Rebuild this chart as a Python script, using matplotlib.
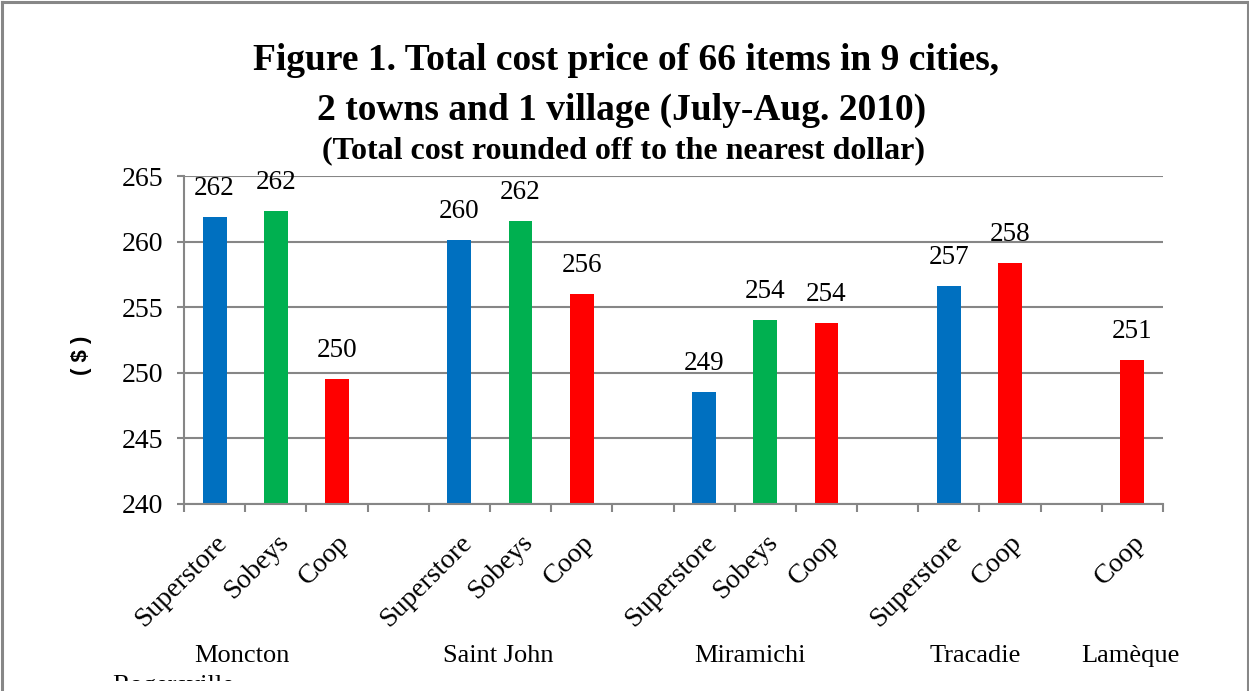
import numpy as np
import matplotlib.pyplot as plt
from matplotlib.lines import Line2D
from matplotlib.patches import Rectangle

# categories along the x axis (blank slots separate the towns)
categories = ['Superstore', 'Sobeys', 'Coop', '',
              'Superstore', 'Sobeys', 'Coop', '',
              'Superstore', 'Sobeys', 'Coop', '',
              'Superstore', 'Coop', '',
              'Coop']
# total cost ($), None for the blank slots
totals = [261.9, 262.3, 249.5, None,
          260.1, 261.6, 256.0, None,
          248.5, 254.0, 253.8, None,
          256.6, 258.4, None,
          251.0]
# rounded labels shown above the bars
rounded = [262, 262, 250, None,
           260, 262, 256, None,
           249, 254, 254, None,
           257, 258, None,
           251]
cities = ['Rogersville', 'Moncton', 'Saint John', 'Miramichi', 'Tracadie', 'Lamèque']
city_x = [-0.68, 0.45, 4.63, 8.75, 12.43, 14.96]

store_colors = {'Superstore': '#0070C0', 'Sobeys': '#00B050', 'Coop': '#FF0000'}

plt.rcParams['font.family'] = ['Liberation Serif', 'DejaVu Serif']

fig = plt.figure(figsize=(12.49, 6.91), dpi=100)
ax = fig.add_axes([184 / 1249, 1 - 503.7 / 691, 979 / 1249, 327.7 / 691])

x = np.arange(len(categories))
for i in range(len(categories)):
    if totals[i] is None:
        continue
    ax.bar(x[i], totals[i] - 240, bottom=240, width=0.39,
           color=store_colors[categories[i]], zorder=2)
    ax.annotate(str(rounded[i]), (x[i], totals[i]), xytext=(0, 22),
                textcoords='offset pixels', ha='center', va='baseline',
                fontsize=19.5)

grey = '#868686'
ax.set_xlim(-0.5, len(categories) - 0.5)
ax.set_ylim(240, 265)
ax.set_yticks(np.arange(240, 266, 5))
ax.yaxis.grid(True, color=grey, linewidth=1.5)
ax.set_axisbelow(True)
for s in ['top', 'right']:
    ax.spines[s].set_visible(False)
for s in ['left', 'bottom']:
    ax.spines[s].set_color(grey)
    ax.spines[s].set_linewidth(1.5)

ax.tick_params(axis='y', length=5, width=1.5, color=grey, pad=10, labelsize=20)
ax.set_xticks(x)
ax.set_xticklabels(categories, rotation=45, ha='right', rotation_mode='anchor',
                   fontsize=20)
ax.tick_params(axis='x', which='major', length=0, pad=19)
ax.set_xticks(np.arange(-0.5, len(categories)), minor=True)
ax.tick_params(axis='x', which='minor', length=6, width=1.5, color=grey)

ax.set_ylabel('( $ )', fontsize=16, fontweight='bold', family='Liberation Sans')
ax.yaxis.set_label_coords((92 - 184) / 979, (503.7 - 355) / 327.7)

# town names under the store labels
trans = ax.get_xaxis_transform()
for name, cx in zip(cities, city_x):
    yy = (503.7 - 662) / 327.7 if name != 'Rogersville' else (503.7 - 692) / 327.7
    ax.text(cx, yy, name, transform=trans, ha='center', va='baseline',
            fontsize=19, clip_on=False)

# title
fig.text(626 / 1249, 1 - 70 / 691, 'Figure 1. Total cost price of 66 items in 9 cities,',
         ha='center', va='baseline', fontsize=27, fontweight='bold')
fig.text(622 / 1249, 1 - 120 / 691, '2 towns and 1 village (July-Aug. 2010)',
         ha='center', va='baseline', fontsize=27, fontweight='bold')
fig.text(624 / 1249, 1 - 158 / 691, '(Total cost rounded off to the nearest dollar)',
         ha='center', va='baseline', fontsize=23, fontweight='bold')

# white strip hiding the lower part of the cut-off label, then the frame
fig.add_artist(Rectangle((0, 0), 1, 10.5 / 691, transform=fig.transFigure,
                         facecolor='white', edgecolor='none', zorder=10))
frame = dict(color='#878787', linewidth=2.2, transform=fig.transFigure, zorder=11)
fig.add_artist(Line2D([1.5 / 1249, 1.5 / 1249], [0, 1 - 1.5 / 691], **frame))
fig.add_artist(Line2D([1.5 / 1249, 1247.5 / 1249], [1 - 1.5 / 691, 1 - 1.5 / 691], **frame))
fig.add_artist(Line2D([1247.5 / 1249, 1247.5 / 1249], [0, 1 - 1.5 / 691], **frame))

fig.savefig('out.png', dpi=100)
